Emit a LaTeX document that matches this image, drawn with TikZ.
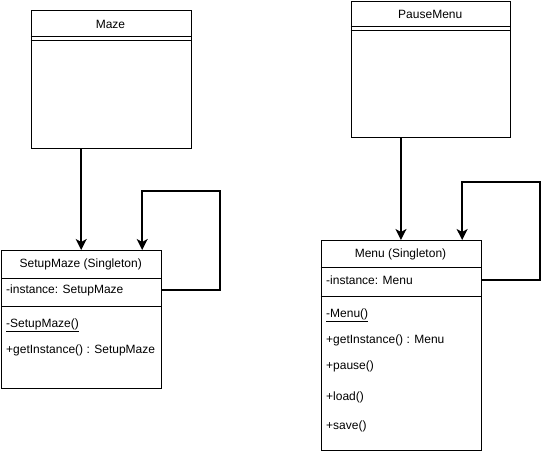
\documentclass[tikz,border=0pt]{standalone}
\usepackage{fontspec}
\setmainfont{Liberation Sans}
\usetikzlibrary{positioning, arrows.meta}

\tikzset{
  classbox/.style={draw, line width=0.9pt, rectangle, anchor=north west, inner sep=0pt},
  ctitle/.style={font=\fontsize{12}{14}\selectfont, inner sep=0pt},
  member/.style={font=\fontsize{12}{14}\selectfont, anchor=west, inner sep=0pt},
  sepline/.style={line width=0.9pt},
  link/.style={line width=1.6pt, -{Stealth[length=11pt,width=11pt,inset=3pt]}}
}

\begin{document}
\begin{tikzpicture}[x=1pt, y=-1pt]
\useasboundingbox (0,0) rectangle (543,454);

% Maze
\node[classbox, minimum width=160pt, minimum height=137.5pt] (maze) at (30.5,10.5) {};
\node[ctitle] (mazeTitle) at (110.5,24) {Maze};
\draw[sepline] (maze.west |- 0,36) -- (maze.east |- 0,36);
\draw[sepline] (maze.west |- 0,40) -- (maze.east |- 0,40);

% SetupMaze
\node[classbox, minimum width=159.5pt, minimum height=138pt] (setup) at (1,250) {};
\node[ctitle] (setupTitle) at (80.75,264) {SetupMaze (Singleton)};
\draw[sepline] (setup.west |- 0,278.5) -- (setup.east |- 0,278.5);
\draw[sepline] (setup.west |- 0,306) -- (setup.east |- 0,306);
\node[member] (setupAttr) at (6,290) {-instance: SetupMaze};
\node[member] (setupCtor) at (6,325) {\underline{-SetupMaze()}};
\node[member] (setupGet)  at (6,350) {+getInstance() : SetupMaze};

% PauseMenu
\node[classbox, minimum width=159.5pt, minimum height=136.5pt] (pause) at (350.5,1) {};
\node[ctitle] (pauseTitle) at (430.25,14) {PauseMenu};
\draw[sepline] (pause.west |- 0,26.5) -- (pause.east |- 0,26.5);
\draw[sepline] (pause.west |- 0,30) -- (pause.east |- 0,30);

% Menu
\node[classbox, minimum width=160pt, minimum height=210pt] (menu) at (320.5,240) {};
\node[ctitle] (menuTitle) at (400.5,254) {Menu (Singleton)};
\draw[sepline] (menu.west |- 0,267.5) -- (menu.east |- 0,267.5);
\draw[sepline] (menu.west |- 0,296) -- (menu.east |- 0,296);
\node[member] (menuAttr)  at (326,280) {-instance: Menu};
\node[member] (menuCtor)  at (326,315) {\underline{-Menu()}};
\node[member] (menuGet)   at (326,340) {+getInstance() : Menu};
\node[member] (menuPause) at (326,366) {+pause()};
\node[member] (menuLoad)  at (326,397) {+load()};
\node[member] (menuSave)  at (326,426) {+save()};

% connectors
\draw[link] (setup.north |- maze.south) -- (setup.north);
\draw[link] (setupAttr -| setup.east) -| ++(58.5,-99) -| ([xshift=61pt]setup.north);
\draw[link] (menu.north |- pause.south) -- (menu.north);
\draw[link] (menuAttr -| menu.east) -| ++(58.5,-98) -| ([xshift=61.2pt]menu.north);
\end{tikzpicture}
\end{document}
